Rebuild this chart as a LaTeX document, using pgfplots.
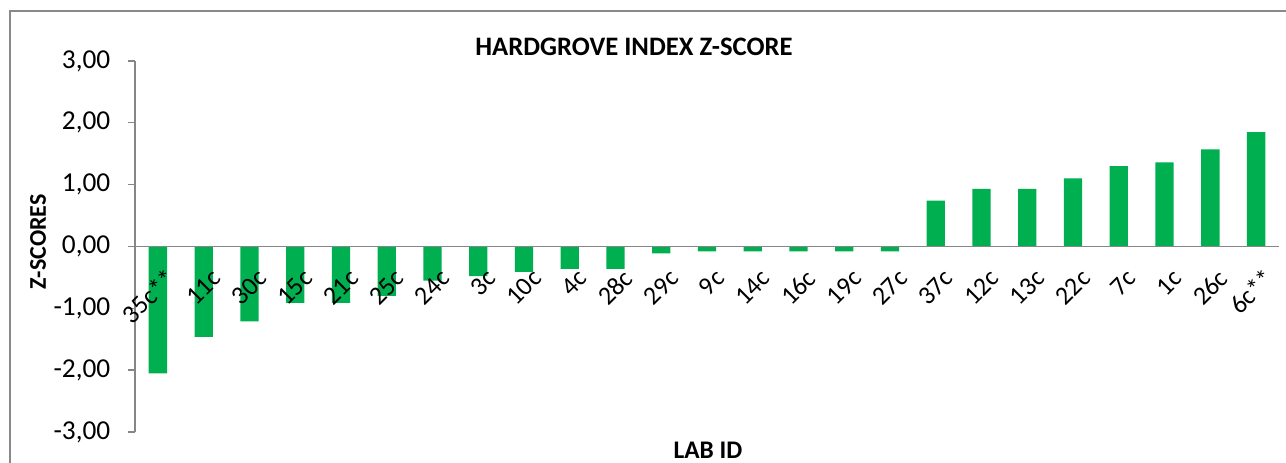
\documentclass[border=0pt]{standalone}
\usepackage{pgfplots}
\pgfplotsset{compat=1.18}
\usepackage{fontspec}
\setmainfont{Carlito}
\definecolor{bargreen}{HTML}{00B050}
\definecolor{axgray}{HTML}{868686}
\definecolor{framegray}{HTML}{898989}
\begin{document}
\begin{tikzpicture}[x=1pt,y=1pt]
\path[use as bounding box] (0,0) rectangle (964.5,347.25);
\begin{scope}
\clip (0,0) rectangle (964.5,347.25);
\draw[framegray, line width=1.5pt] (7.5,339) rectangle (975,-10);
\end{scope}
\begin{axis}[
  at={(101.25pt,23.25pt)}, anchor=south west,
  scale only axis, width=858pt, height=278.25pt,
  xmin=-0.5, xmax=24.5, ymin=-3, ymax=3,
  axis x line=middle, axis y line=left,
  axis on top,
  axis line style={axgray, line width=1pt, -},
  x axis line style={line width=1.3pt},
  xtick={0,...,24},
  xticklabels={35c**,11c,30c,15c,21c,25c,24c,3c,10c,4c,28c,29c,9c,14c,16c,19c,27c,37c,12c,13c,22c,7c,1c,26c,6c**},
  major x tick style={draw=none},
  xticklabel style={rotate=45, anchor=east, font=\fontsize{19.5}{21}\selectfont, yshift=-18pt, xshift=-3pt, inner sep=1pt},
  ytick={-3,-2,...,3},
  major y tick style={axgray, line width=1pt},
  major tick length=5pt,
  tick align=outside,
  yticklabel style={font=\fontsize{20.5}{22}\selectfont, xshift=-10pt},
  /pgf/number format/.cd, fixed, fixed zerofill, precision=2, use comma, assume math mode=true,
  /pgfplots/.cd,
  ybar, bar width=13.7pt, bar shift=0pt,
  clip=false,
]
\addplot[fill=bargreen, draw=none] coordinates {
(0,-2.05) (1,-1.46) (2,-1.21) (3,-0.91) (4,-0.91) (5,-0.80) (6,-0.55) (7,-0.48) (8,-0.41) (9,-0.36) (10,-0.36) (11,-0.11) (12,-0.08) (13,-0.08) (14,-0.08) (15,-0.08) (16,-0.08) (17,0.74) (18,0.93) (19,0.93) (20,1.10) (21,1.30) (22,1.36) (23,1.57) (24,1.85)
};
\end{axis}
\node[font=\bfseries\fontsize{20}{22}\selectfont] at (475.5,312) {HARDGROVE INDEX Z-SCORE};
\node[font=\bfseries\fontsize{19}{21}\selectfont] at (531,9.75) {LAB ID};
\node[font=\bfseries\fontsize{18}{20}\selectfont, rotate=90] at (28.5,166) {Z-SCORES};
\end{tikzpicture}
\end{document}
